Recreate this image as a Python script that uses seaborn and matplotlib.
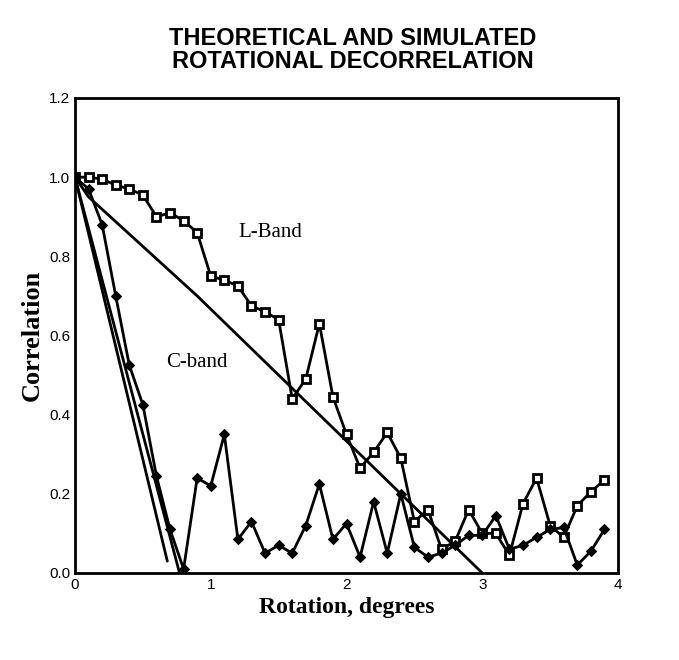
import numpy as np
import pandas as pd
import matplotlib
matplotlib.use("Agg")
import matplotlib.pyplot as plt
import seaborn as sns

sns.set_theme(style="white")
plt.rcParams['font.family'] = ['Liberation Sans', 'DejaVu Sans']
plt.rcParams['text.color'] = 'black'
plt.rcParams['axes.labelcolor'] = 'black'
plt.rcParams['xtick.color'] = 'black'
plt.rcParams['ytick.color'] = 'black'

rot = [round(0.1 * i, 1) for i in range(40)]
lband = [1.0, 1.0, 0.995, 0.98, 0.97, 0.955, 0.90, 0.91, 0.89, 0.86,
         0.75, 0.74, 0.725, 0.675, 0.66, 0.64, 0.44, 0.49, 0.63, 0.445,
         0.35, 0.265, 0.305, 0.355, 0.29, 0.13, 0.16, 0.06, 0.08, 0.16,
         0.10, 0.10, 0.045, 0.175, 0.24, 0.12, 0.09, 0.17, 0.205, 0.235]
cband = [1.0, 0.97, 0.88, 0.70, 0.525, 0.425, 0.245, 0.11, 0.01, 0.24,
         0.22, 0.35, 0.085, 0.13, 0.05, 0.07, 0.05, 0.12, 0.225, 0.085,
         0.125, 0.04, 0.18, 0.05, 0.20, 0.065, 0.04, 0.05, 0.07, 0.095,
         0.095, 0.145, 0.06, 0.07, 0.09, 0.11, 0.115, 0.02, 0.055, 0.11]
theo_l_x = [0.0, 0.1, 0.9, 3.0]
theo_l_y = [1.0, 0.95, 0.70, 0.0]
theo_c1_x = [0.0, 0.68]
theo_c1_y = [1.0, 0.03]
theo_c2_x = [0.0, 0.77]
theo_c2_y = [1.0, 0.0]

fig = plt.figure(figsize=(6.79, 6.6), dpi=100)
ax = fig.add_axes([75/679, 1 - 573/660, 543/679, 475/660])

df = pd.DataFrame({"rot": rot, "L": lband, "C": cband})
sns.lineplot(data=df, x="rot", y="L", ax=ax, color="black", lw=2,
             marker="s", markersize=6, markerfacecolor="white",
             markeredgecolor="black", markeredgewidth=2)
sns.lineplot(data=df, x="rot", y="C", ax=ax, color="black", lw=2,
             marker="D", markersize=5, markerfacecolor="black",
             markeredgecolor="black")
for xs, ys in [(theo_l_x, theo_l_y), (theo_c1_x, theo_c1_y), (theo_c2_x, theo_c2_y)]:
    sns.lineplot(x=xs, y=ys, ax=ax, color="black", lw=2, sort=False)

ax.set_xlim(0, 4)
ax.set_ylim(0, 1.2)
ax.set_xticks([0, 1, 2, 3, 4])
ax.set_xticks(np.arange(0, 4.01, 0.5), minor=True)
ax.set_yticks(np.arange(0, 1.21, 0.2))
ax.set_yticklabels([f"{v:.1f}" for v in np.arange(0, 1.21, 0.2)])
ax.set_yticks(np.arange(0, 1.21, 0.1), minor=True)
ax.tick_params(which="both", direction="in", color="black", width=1.5,
               labelsize=11, labelcolor="black")
ax.tick_params(which="major", length=6)
ax.tick_params(which="minor", length=4)
for s in ax.spines.values():
    s.set_color("black")
    s.set_linewidth(2)

serif = ['Liberation Serif', 'DejaVu Serif']
ax.set_xlabel("Rotation, degrees", family=serif, fontsize=17, fontweight="bold", color="black")
ax.set_ylabel("Correlation", family=serif, fontsize=19, fontweight="bold", color="black")
ax.text(1.2, 0.85, "L-Band", family=serif, fontsize=15, color="black")
ax.text(0.67, 0.52, "C-band", family=serif, fontsize=15, color="black")
fig.text(0.52, 0.89, "THEORETICAL AND SIMULATED\nROTATIONAL DECORRELATION",
         ha="center", va="bottom", fontsize=17, fontweight="bold",
         linespacing=1.0, color="black")

fig.savefig("out.png", dpi=100)
